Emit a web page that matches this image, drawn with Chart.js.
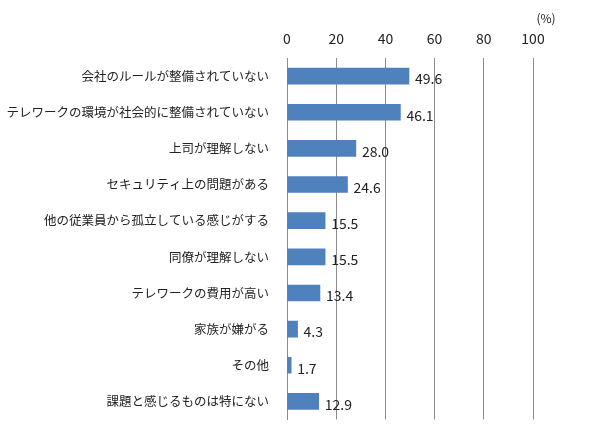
<!DOCTYPE html>
<html>
<head>
<meta charset="utf-8">
<script src="https://cdn.jsdelivr.net/npm/chart.js@4/dist/chart.umd.min.js"></script>
<style>
  body { margin: 0; background: #fff; }
  #wrap { width: 590px; height: 437px; position: relative; }
</style>
</head>
<body>
<div id="wrap"><canvas id="c"></canvas></div>
<script>
const categories = ['会社のルールが整備されていない', 'テレワークの環境が社会的に整備されていない', '上司が理解しない', 'セキュリティ上の問題がある', '他の従業員から孤立している感じがする', '同僚が理解しない', 'テレワークの費用が高い', '家族が嫌がる', 'その他', '課題と感じるものは特にない'];
const values = [49.6, 46.1, 28.0, 24.6, 15.5, 15.5, 13.4, 4.3, 1.7, 12.9];
const tickValues = [0, 20, 40, 60, 80, 100];

const fontFamily = '"Noto Sans CJK JP", "Noto Sans", sans-serif';

// value labels at bar ends, plus the (%) unit note
const labelPlugin = {
  id: 'labels',
  afterDatasetsDraw(chart) {
    const ctx = chart.ctx;
    const meta = chart.getDatasetMeta(0);
    ctx.save();
    ctx.font = '14px ' + fontFamily;
    ctx.fillStyle = '#222';
    ctx.textBaseline = 'middle';
    meta.data.forEach((bar, i) => {
      ctx.fillText(values[i].toFixed(1), bar.x + 6, bar.y + 3);
    });
    ctx.textAlign = 'center';
    ctx.font = '12px ' + fontFamily;
    ctx.fillText('(%)', chart.scales.x.right + 13, 18);
    ctx.restore();
  }
};

new Chart(document.getElementById('c'), {
  type: 'bar',
  data: {
    labels: categories,
    datasets: [{
      data: values,
      backgroundColor: '#4f81bd',
      barThickness: 16
    }]
  },
  options: {
    indexAxis: 'y',
    responsive: true,
    maintainAspectRatio: false,
    animation: false,
    layout: { padding: { left: 0, right: 57, top: 0, bottom: 5 } },
    plugins: { legend: { display: false }, tooltip: { enabled: false } },
    scales: {
      x: {
        position: 'top',
        min: 0, max: 100,
        afterBuildTicks: (s) => { s.ticks = tickValues.map(v => ({ value: v })); },
        afterFit: (s) => { s.height = 58; },
        ticks: { color: '#222', font: { size: 14, family: fontFamily }, padding: 11 },
        grid: { color: '#8c8c8c', drawTicks: false },
        border: { display: false }
      },
      y: {
        afterFit: (s) => { s.width = 287; },
        ticks: { color: '#222', font: { size: 12.5, family: fontFamily }, padding: 10 },
        grid: { display: false },
        border: { color: '#8c8c8c' }
      }
    }
  },
  plugins: [labelPlugin]
});
</script>
</body>
</html>
